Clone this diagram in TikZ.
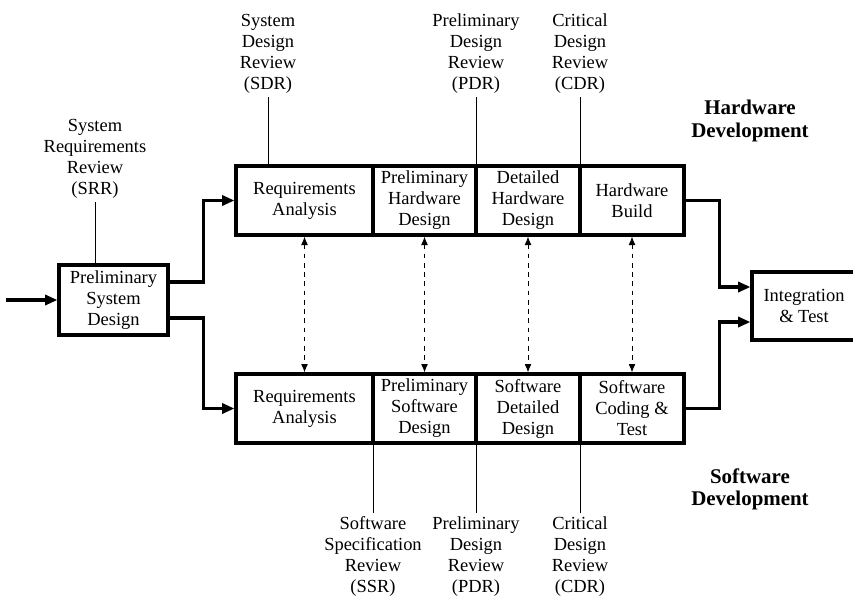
\documentclass[tikz,border=0pt]{standalone}
\usepackage{fontspec}
\setmainfont{Liberation Serif}
\usetikzlibrary{arrows.meta,positioning,calc}
\newlength\pxu
\setlength\pxu{0.65pt}
\tikzset{cell/.style={draw,line width=2pt,align=center,inner sep=1pt,font=\fontsize{12}{13.65}\selectfont,minimum height=69\pxu},rev/.style={align=center,inner sep=2pt,font=\fontsize{12}{13.65}\selectfont},tag/.style={align=center,font=\fontsize{13.6}{14.4}\selectfont\bfseries},flow/.style={-{Triangle[length=8pt,width=6.5pt]},line width=2pt},link/.style={{Latex[length=5.5pt,width=4.5pt]}-{Latex[length=5.5pt,width=4.5pt]},dashed,line width=0.65pt},tick/.style={line width=0.65pt}}

\begin{document}
\begin{tikzpicture}[x=1\pxu,y=-1\pxu]
\useasboundingbox (0,0) rectangle (853,601);
\node[cell,minimum width=109\pxu,minimum height=70\pxu] (psd) at (113.5,300) {Preliminary\\System\\Design};
\node[cell,minimum width=137\pxu] (hra) at (304.5,200.5) {Requirements\\Analysis};
\node[cell,minimum width=103\pxu] (hpd) at (424.5,200.5) {Preliminary\\Hardware\\Design};
\node[cell,minimum width=104\pxu] (hdd) at (528,200.5) {Detailed\\Hardware\\Design};
\node[cell,minimum width=104\pxu] (hbd) at (632,200.5) {Hardware\\Build};
\node[cell,minimum width=137\pxu] (sra) at (304.5,408.5) {Requirements\\Analysis};
\node[cell,minimum width=103\pxu] (spd) at (424.5,408.5) {Preliminary\\Software\\Design};
\node[cell,minimum width=104\pxu] (sdd) at (528,408.5) {Software\\Detailed\\Design};
\node[cell,minimum width=104\pxu] (sct) at (632,408.5) {Software\\Coding \&\\Test};
\node[cell,minimum width=104\pxu,minimum height=68\pxu] (int) at (804,306) {Integration\\\& Test};
\node[tag] (hwdev) at (750,121) {Hardware\\Development};
\node[tag] (swdev) at (750,489.5) {Software\\Development};
\coordinate (in) at (6,300);
\draw[flow] (in) -- (psd.west);
\draw[flow] ([yshift=18\pxu]psd.east) -- ++(34,0) |- (hra.west);
\draw[flow] ([yshift=-18\pxu]psd.east) -- ++(34,0) |- (sra.west);
\draw[flow] (hbd.east) -- ++(34,0) |- ([yshift=19\pxu]int.west);
\draw[flow] (sct.east) -- ++(34,0) |- ([yshift=-16\pxu]int.west);
\draw[link] (hra.south) -- (sra.north);
\draw[link] (hpd.south) -- (spd.north);
\draw[link] (hdd.south) -- (sdd.north);
\draw[link] (hbd.south) -- (sct.north);
\node[rev,anchor=south] (srr) at (95,202) {System\\Requirements\\Review\\(SRR)};
\node[rev,anchor=south] (sdr) at (268,97) {System\\Design\\Review\\(SDR)};
\node[rev,anchor=south] (pdrh) at (476,97) {Preliminary\\Design\\Review\\(PDR)};
\node[rev,anchor=south] (cdrh) at (580,97) {Critical\\Design\\Review\\(CDR)};
\node[rev,anchor=north] (ssr) at (373,513) {Software\\Specification\\Review\\(SSR)};
\node[rev,anchor=north] (pdrs) at (476,513) {Preliminary\\Design\\Review\\(PDR)};
\node[rev,anchor=north] (cdrs) at (580,513) {Critical\\Design\\Review\\(CDR)};
\draw[tick] (srr.south) -- (srr.south |- psd.north);
\draw[tick] (sdr.south) -- (sdr.south |- hra.north);
\draw[tick] (pdrh.south) -- (pdrh.south |- hdd.north);
\draw[tick] (cdrh.south) -- (cdrh.south |- hbd.north);
\draw[tick] (ssr.north) -- (ssr.north |- spd.south);
\draw[tick] (pdrs.north) -- (pdrs.north |- sdd.south);
\draw[tick] (cdrs.north) -- (cdrs.north |- sct.south);
\end{tikzpicture}
\end{document}
